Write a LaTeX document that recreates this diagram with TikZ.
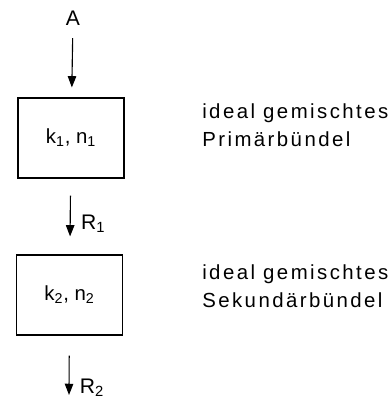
\documentclass[tikz,border=0pt]{standalone}
\usepackage{fontspec}
\setmainfont{Liberation Sans}
\newfontfamily\spacedfont[LetterSpace=12]{Liberation Sans}
\usetikzlibrary{arrows.meta}

\begin{document}
\begin{tikzpicture}[
    cell/.style = {rectangle, draw=black, line width=0.8pt, minimum width=2.65cm, minimum height=2.0cm, font=\fontsize{14.5}{17}\selectfont},
    note/.style = {align=left, anchor=west, inner sep=0pt, font=\spacedfont\fontsize{14.5}{19.8}\selectfont},
    lbl/.style = {font=\fontsize{15}{18}\selectfont},
    arrow/.style = {draw=black, line width=0.8pt, -{Triangle[length=8pt, width=6pt]}}
]
\useasboundingbox (0,0) rectangle (9.775,-10.025);

\node (a) [lbl] at (1.825,-0.45) {A};
\node (b1) [cell] at (1.775,-3.45) {k\textsubscript{1}, n\textsubscript{1}};
\node (b2) [cell] at (1.7375,-7.375) {k\textsubscript{2}, n\textsubscript{2}};
\coordinate (out) at (1.725,-9.875);

\node (t1) [note] at (5.05,-3.125) {ideal gemischtes\\Primärbündel};
\node (t2) [note] at (5.05,-7.15) {ideal gemischtes\\Sekundärbündel};

\draw [arrow, shorten <=0.2cm, shorten >=0.25cm] (a) -- (b1);
\draw [arrow, shorten <=0.425cm, shorten >=0.45cm] (b1) -- node[lbl, right=4pt, pos=0.6] (r1) {R\textsubscript{1}} (b2);
\draw [arrow, shorten <=0.5cm] (b2) -- node[lbl, right=4pt, pos=0.88] (r2) {R\textsubscript{2}} (out);

\end{tikzpicture}
\end{document}
